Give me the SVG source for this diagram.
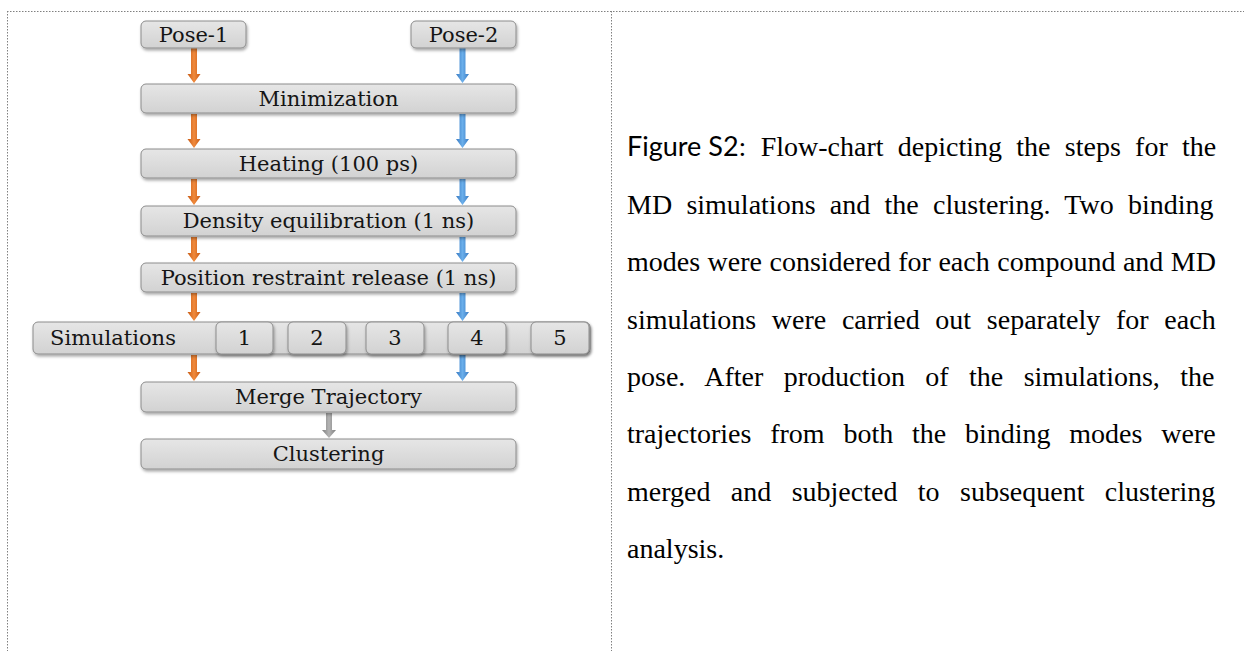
<svg xmlns="http://www.w3.org/2000/svg" width="1244" height="651" viewBox="0 0 1244 651">
  <defs>
    <linearGradient id="boxFill" x1="0" y1="0" x2="0" y2="1">
      <stop offset="0" stop-color="#e6e6e6"/>
      <stop offset="1" stop-color="#d2d2d2"/>
    </linearGradient>
    <linearGradient id="orangeFill" x1="0" y1="0" x2="1" y2="0">
      <stop offset="0" stop-color="#c85a14"/>
      <stop offset="0.5" stop-color="#f08a3c"/>
      <stop offset="1" stop-color="#c85a14"/>
    </linearGradient>
    <linearGradient id="blueFill" x1="0" y1="0" x2="1" y2="0">
      <stop offset="0" stop-color="#3a7cc4"/>
      <stop offset="0.5" stop-color="#6aaeea"/>
      <stop offset="1" stop-color="#3a7cc4"/>
    </linearGradient>
    <linearGradient id="grayFill" x1="0" y1="0" x2="1" y2="0">
      <stop offset="0" stop-color="#7e7e7e"/>
      <stop offset="0.5" stop-color="#b4b4b4"/>
      <stop offset="1" stop-color="#7e7e7e"/>
    </linearGradient>
    <filter id="shadow" x="-10%" y="-30%" width="120%" height="170%">
      <feDropShadow dx="1" dy="2" stdDeviation="1.5" flood-color="#000" flood-opacity="0.35"/>
    </filter>
  </defs>
  <style>
    .frame { fill: none; stroke: #808080; stroke-width: 1; stroke-dasharray: 1.5 1.5; }
    .box { fill: url(#boxFill); stroke: #8c8c8c; stroke-width: 1; filter: url(#shadow); }
    .lbl { font-family: "DejaVu Serif", "Liberation Serif", serif; font-size: 21px; fill: #151515; text-anchor: middle; dominant-baseline: central; }
    .cap { font-family: "Liberation Serif", "Times New Roman", serif; font-size: 28px; fill: #000; }
    .fig { font-family: Lato, "Open Sans", sans-serif; font-size: 27px; fill: #000; }
  </style>

  <rect width="1244" height="651" fill="#fff"/>

  <!-- page frame -->
  <g id="frame">
    <line class="frame" x1="7" y1="11.5" x2="1244" y2="11.5"/>
    <line class="frame" x1="7.5" y1="11" x2="7.5" y2="651"/>
    <line class="frame" x1="611.5" y1="11" x2="611.5" y2="651"/>
  </g>

  <!-- connectors -->
  <g id="connectors">
    <g fill="url(#orangeFill)">
      <polygon points="191,48 197,48 197,74 200.5,74 194,83 187.5,74 191,74"/>
      <polygon points="191,114 197,114 197,139 200.5,139 194,148 187.5,139 191,139"/>
      <polygon points="191,179 197,179 197,196 200.5,196 194,205 187.5,196 191,196"/>
      <polygon points="191,237 197,237 197,253 200.5,253 194,262 187.5,253 191,253"/>
      <polygon points="191,293 197,293 197,312 200.5,312 194,321 187.5,312 191,312"/>
      <polygon points="191,355 197,355 197,372 200.5,372 194,381 187.5,372 191,372"/>
    </g>
    <g fill="url(#blueFill)">
      <polygon points="459.5,48 465.5,48 465.5,74 469,74 462.5,83 456,74 459.5,74"/>
      <polygon points="459.5,114 465.5,114 465.5,139 469,139 462.5,148 456,139 459.5,139"/>
      <polygon points="459.5,179 465.5,179 465.5,196 469,196 462.5,205 456,196 459.5,196"/>
      <polygon points="459.5,237 465.5,237 465.5,253 469,253 462.5,262 456,253 459.5,253"/>
      <polygon points="459.5,293 465.5,293 465.5,312 469,312 462.5,321 456,312 459.5,312"/>
      <polygon points="459.5,355 465.5,355 465.5,372 469,372 462.5,381 456,372 459.5,372"/>
    </g>
    <polygon fill="url(#grayFill)" points="326,413 332,413 332,430 336,430 329,438 322,430 326,430"/>
  </g>

  <!-- flow-chart nodes -->
  <g id="pose1">
    <rect class="box" x="141" y="21" width="105" height="27" rx="5"/>
    <text class="lbl" x="193.5" y="34.5">Pose-1</text>
  </g>
  <g id="pose2">
    <rect class="box" x="411" y="21" width="105" height="27" rx="5"/>
    <text class="lbl" x="463.5" y="34.5">Pose-2</text>
  </g>
  <g id="minimization">
    <rect class="box" x="141" y="84" width="375" height="29" rx="5"/>
    <text class="lbl" x="328.5" y="98.5">Minimization</text>
  </g>
  <g id="heating">
    <rect class="box" x="141" y="149" width="375" height="29" rx="5"/>
    <text class="lbl" x="328.5" y="163.5">Heating (100 ps)</text>
  </g>
  <g id="density">
    <rect class="box" x="141" y="206" width="375" height="30" rx="5"/>
    <text class="lbl" x="328.5" y="221">Density equilibration (1 ns)</text>
  </g>
  <g id="restraint">
    <rect class="box" x="141" y="263" width="375" height="29" rx="5"/>
    <text class="lbl" x="328.5" y="277.5">Position restraint release (1 ns)</text>
  </g>
  <g id="simulations">
    <rect class="box" x="33" y="322" width="557" height="32" rx="5"/>
    <text class="lbl" x="113" y="338">Simulations</text>
    <rect class="box" x="216" y="322" width="57" height="32" rx="5"/>
    <text class="lbl" x="244.5" y="338">1</text>
    <rect class="box" x="288" y="322" width="58" height="32" rx="5"/>
    <text class="lbl" x="317" y="338">2</text>
    <rect class="box" x="366" y="322" width="58" height="32" rx="5"/>
    <text class="lbl" x="395" y="338">3</text>
    <rect class="box" x="448" y="322" width="58" height="32" rx="5"/>
    <text class="lbl" x="477" y="338">4</text>
    <rect class="box" x="531" y="322" width="58" height="32" rx="5"/>
    <text class="lbl" x="560" y="338">5</text>
  </g>
  <g id="merge">
    <rect class="box" x="141" y="382" width="375" height="30" rx="5"/>
    <text class="lbl" x="328.5" y="397">Merge Trajectory</text>
  </g>
  <g id="clustering">
    <rect class="box" x="141" y="439" width="375" height="30" rx="5"/>
    <text class="lbl" x="328.5" y="454">Clustering</text>
  </g>

  <!-- caption, justified with word spacing -->
  <g id="caption">
    <text class="cap" x="627" y="156"><tspan class="fig">Figure S2</tspan><tspan word-spacing="7.3">: Flow-chart depicting the steps for the</tspan></text>
    <text class="cap" x="627" y="214" word-spacing="7.3">MD simulations and the clustering. Two binding</text>
    <text class="cap" x="627" y="271" word-spacing="0.5">modes were considered for each compound and MD</text>
    <text class="cap" x="627" y="329" word-spacing="8.7">simulations were carried out separately for each</text>
    <text class="cap" x="627" y="386" word-spacing="13.4">pose. After production of the simulations, the</text>
    <text class="cap" x="627" y="443" word-spacing="11.8">trajectories from both the binding modes were</text>
    <text class="cap" x="627" y="501" word-spacing="13.4">merged and subjected to subsequent clustering</text>
    <text class="cap" x="627" y="558">analysis.</text>
  </g>
</svg>
